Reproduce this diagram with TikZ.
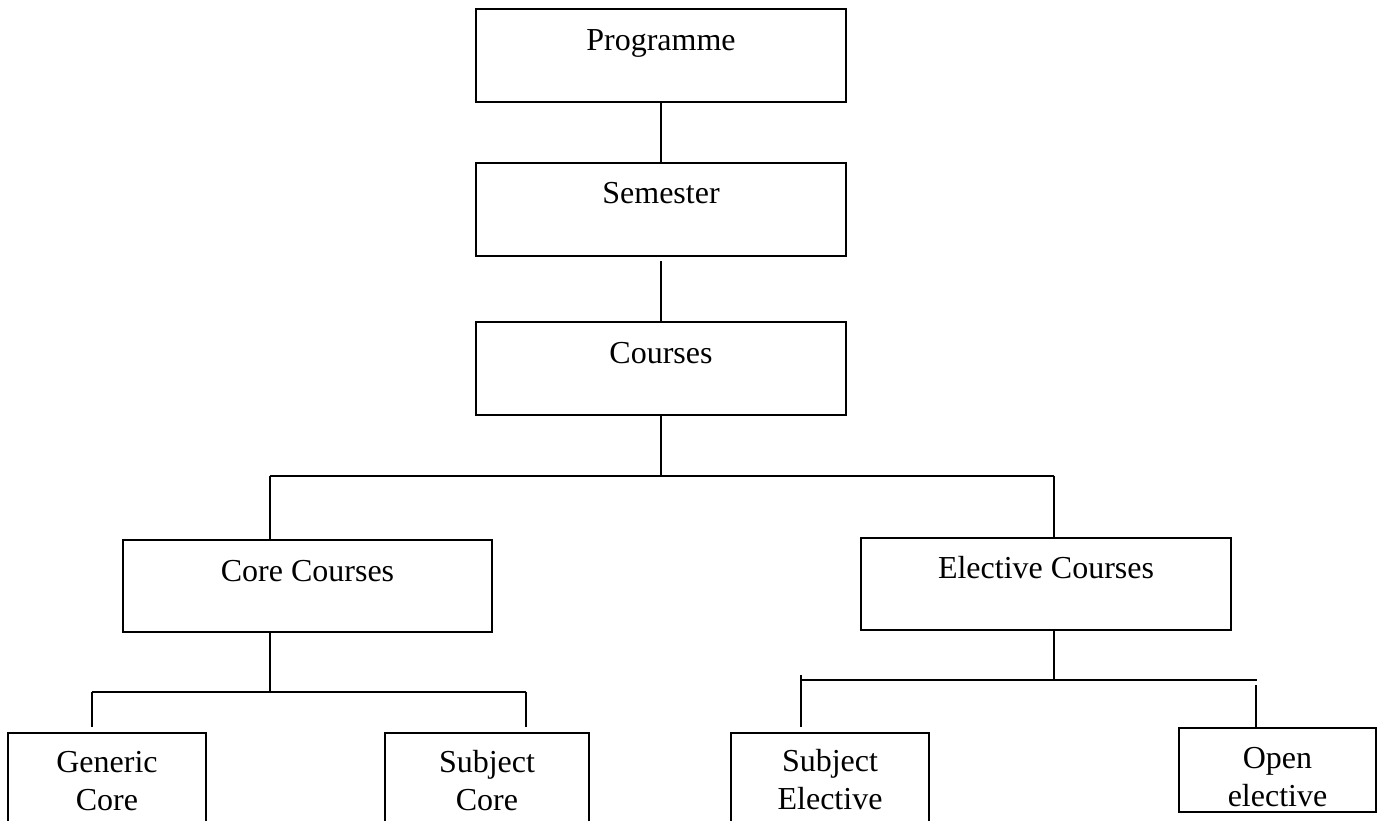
\documentclass[tikz,border=0pt]{standalone}
\usepackage{fontspec}
\setmainfont{Liberation Serif}
\begin{document}
\begin{tikzpicture}[x=1pt,y=-1pt,
  box/.style={draw, rectangle, line width=2.6pt, inner sep=0pt},
  conn/.style={line width=2.2pt},
  lbl/.style={anchor=base, inner sep=0pt, align=center, font=\fontsize{32}{38}\selectfont}]
\useasboundingbox (0,0) rectangle (1378,821);
\clip (0,0) rectangle (1378,821);
% boxes
\node[box, minimum width=370pt, minimum height=93pt] (prog) at (661,55.5) {};
\node[box, minimum width=370pt, minimum height=93pt] (sem) at (661,209.5) {};
\node[box, minimum width=370pt, minimum height=93pt] (cour) at (661,368.5) {};
\node[box, minimum width=369pt, minimum height=92pt] (core) at (307.5,586) {};
\node[box, minimum width=370pt, minimum height=92pt] (elec) at (1046,584) {};
\node[box, minimum width=198pt, minimum height=127pt] (gen) at (107,796.5) {};
\node[box, minimum width=204pt, minimum height=127pt] (subcore) at (487,796.5) {};
\node[box, minimum width=198pt, minimum height=127pt] (subel) at (830,796.5) {};
\node[box, minimum width=197pt, minimum height=84pt] (open) at (1277.5,770) {};
% labels
\node[lbl] (tprog) at (661,51) {Programme};
\node[lbl] (tsem) at (661,204) {Semester};
\node[lbl] (tcour) at (661,363) {Courses};
\node[lbl] (tcore) at (307.5,581) {Core Courses};
\node[lbl] (telec) at (1046,578) {Elective Courses};
\node[lbl] (tgen) at (107,810) {Generic\\Core};
\node[lbl] (tsubcore) at (487,810) {Subject\\Core};
\node[lbl] (tsubel) at (830,809) {Subject\\Elective};
\node[lbl] (topen) at (1277.5,806) {Open\\elective};
% junction points
\coordinate (hL) at (270,476);
\coordinate (hR) at (1054,476);
\coordinate (cL) at (92,692);
\coordinate (cR) at (526,692);
\coordinate (eL) at (801,680);
\coordinate (eR) at (1257,680);
\coordinate (eLt) at (801,675);
\coordinate (eRt) at (1256,685);
% connectors
\draw[conn] (prog.south) -- (sem.north);
\draw[conn, shorten <=4pt] (sem.south) -- (cour.north);
\draw[conn] (cour.south) -- (cour.south |- hL);
\draw[conn] (hL) -- (hR);
\draw[conn] (hL) -- (hL |- core.north);
\draw[conn] (hR) -- (hR |- elec.north);
\draw[conn] (hL |- core.south) -- (hL |- cL);
\draw[conn] (cL) -- (cR);
\draw[conn, shorten >=5pt] (cL) -- (cL |- gen.north);
\draw[conn, shorten >=5pt] (cR) -- (cR |- subcore.north);
\draw[conn] (hR |- elec.south) -- (hR |- eL);
\draw[conn] (eL) -- (eR);
\draw[conn, shorten >=5pt] (eLt) -- (eLt |- subel.north);
\draw[conn] (eRt) -- (eRt |- open.north);
\end{tikzpicture}
\end{document}
